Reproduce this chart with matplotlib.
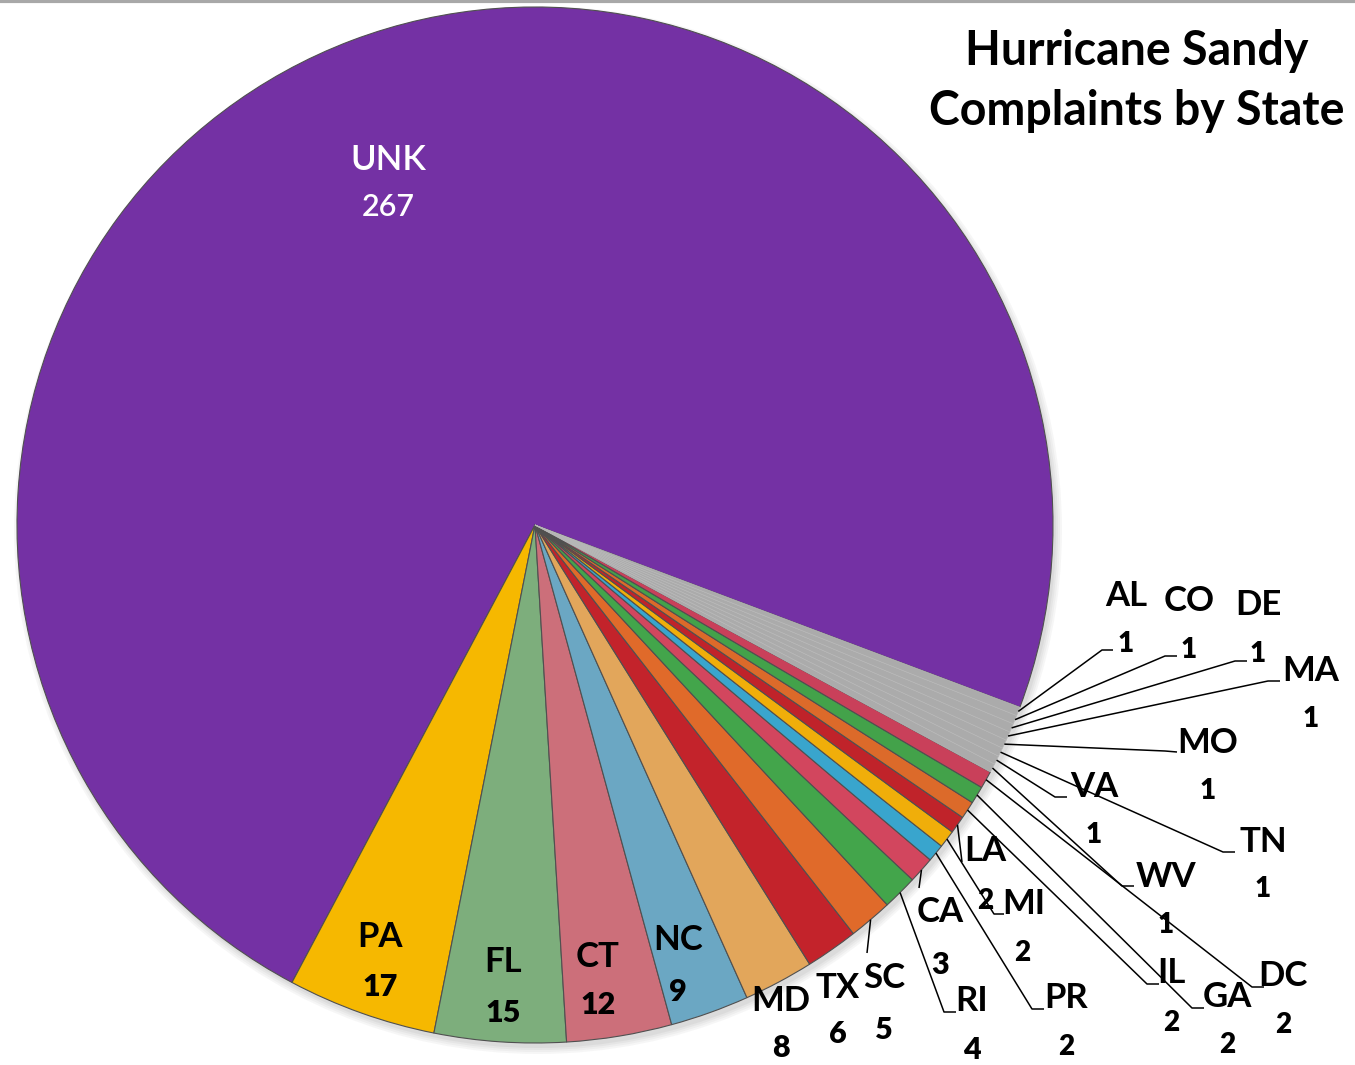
import numpy as np
import matplotlib.pyplot as plt
from matplotlib.patches import Circle

# complaints per state, in the order the slices are drawn
states = ['UNK', 'PA', 'FL', 'CT', 'NC', 'MD', 'TX', 'SC', 'RI', 'CA',
          'PR', 'MI', 'LA', 'IL', 'GA', 'DC',
          'WV', 'VA', 'TN', 'MO', 'MA', 'DE', 'CO', 'AL']
counts = [267, 17, 15, 12, 9, 8, 6, 5, 4, 3,
          2, 2, 2, 2, 2, 2,
          1, 1, 1, 1, 1, 1, 1, 1]

slice_colors = ['#7431A4', '#F6B800', '#7DAE7C', '#CC6F7A', '#6BA7C3', '#E2A65B',
                '#C3232B', '#E06A2A', '#43A54B', '#D2465E',
                '#39A5CD', '#F0AE0A', '#C0232A', '#DC6A2A', '#43A24A', '#C9405A'] + ['#ABABAB'] * 8

title = 'Hurricane Sandy\nComplaints by State'

# label placement (picture pixels): name position, value position
name_xy = [(388, 160), (380, 937), (503, 962), (598, 957), (678, 940), (781, 1001),
           (838, 988), (884, 978), (972, 1001), (940, 912),
           (1066, 998), (1024, 904), (985, 851), (1171, 973), (1227, 997), (1283, 976),
           (1166, 877), (1094, 787), (1263, 842), (1208, 743), (1311, 671),
           (1258, 605), (1189, 601), (1126, 596)]
value_xy = [(388, 207), (380, 987), (503, 1013), (598, 1005), (678, 992), (781, 1048),
            (838, 1034), (884, 1030), (972, 1050), (940, 965),
            (1066, 1047), (1022, 953), (985, 901), (1171, 1023), (1227, 1045), (1283, 1025),
            (1166, 925), (1094, 835), (1263, 889), (1208, 791), (1311, 719),
            (1258, 654), (1189, 650), (1126, 644)]
# leader lines: elbow point and end of the short horizontal tail (None = no leader)
leaders = [None, None, None, None, None, None, None,
           ((867, 953), (867, 953)),        # SC
           ((944, 1012), (956, 1012)),      # RI
           ((919, 888), (919, 888)),        # CA
           ((1032, 1009), (1044, 1009)),    # PR
           ((994, 914), (1004, 914)),       # MI
           ((962, 862), (962, 862)),        # LA
           ((1147, 984), (1159, 984)),      # IL
           ((1192, 1008), (1204, 1008)),    # GA
           ((1252, 987), (1264, 987)),      # DC
           ((1122, 886), (1134, 886)),      # WV
           ((1055, 797), (1067, 797)),      # VA
           ((1223, 852), (1235, 852)),      # TN
           ((1165, 751), (1177, 752)),      # MO
           ((1268, 681), (1280, 681)),      # MA
           ((1235, 661), (1247, 661)),      # DE
           ((1165, 656), (1177, 656)),      # CO
           ((1102, 650), (1113, 650))]      # AL

W, H = 1355, 1065
cx, cy, R = 535, 525, 518

fig = plt.figure(figsize=(W / 100, H / 100), dpi=100)
ax = fig.add_axes([0, 0, 1, 1])

# soft drop shadow
for k, a in enumerate([0.05, 0.05, 0.06, 0.07]):
    ax.add_patch(Circle((cx + 3, cy + 5), R + 6 - 2 * k, color='#606060', alpha=a, lw=0, zorder=0))

wedges, _ = ax.pie(counts, colors=slice_colors, startangle=20.6, counterclock=False,
                   radius=R, center=(cx, cy),
                   wedgeprops=dict(linewidth=0.8, edgecolor='#505050'))
for w, c in zip(wedges, slice_colors):
    w.set_zorder(2)
    if c == '#ABABAB':
        w.set_edgecolor('#b8b8b8')
        w.set_linewidth(0.5)

ax.set_xlim(0, W)
ax.set_ylim(H, 0)
ax.set_aspect('equal')
ax.axis('off')

fnt = ['Lato', 'DejaVu Sans']
for i, (s, v) in enumerate(zip(states, counts)):
    col = 'white' if s == 'UNK' else 'black'
    wt = 'semibold' if s == 'UNK' else 'bold'
    ax.text(*name_xy[i], s, ha='center', va='center', fontsize=25, color=col,
            fontweight=wt, family=fnt, zorder=5)
    ax.text(*value_xy[i], str(v), ha='center', va='center', fontsize=22 if v > 2 else 20,
            color=col, fontweight='semibold' if s == 'UNK' else 'heavy', family=fnt, zorder=5)

    if leaders[i] is not None:
        th = np.deg2rad((wedges[i].theta1 + wedges[i].theta2) / 2)
        x0, y0 = cx + R * np.cos(th), cy + R * np.sin(th)
        (xe, ye), (xh, yh) = leaders[i]
        ax.plot([x0, xe, xh], [y0, ye, yh], color='black', lw=1.1, zorder=4,
                solid_capstyle='butt')

ax.text(1137, 81, title, ha='center', va='center', fontsize=33.5, fontweight='bold',
        family=fnt, linespacing=1.45, zorder=5)

# thin frame line along the top edge
ax.plot([0, W], [1, 1], color='#a8a8a8', lw=3, zorder=6)

fig.savefig('out.png', dpi=100)
